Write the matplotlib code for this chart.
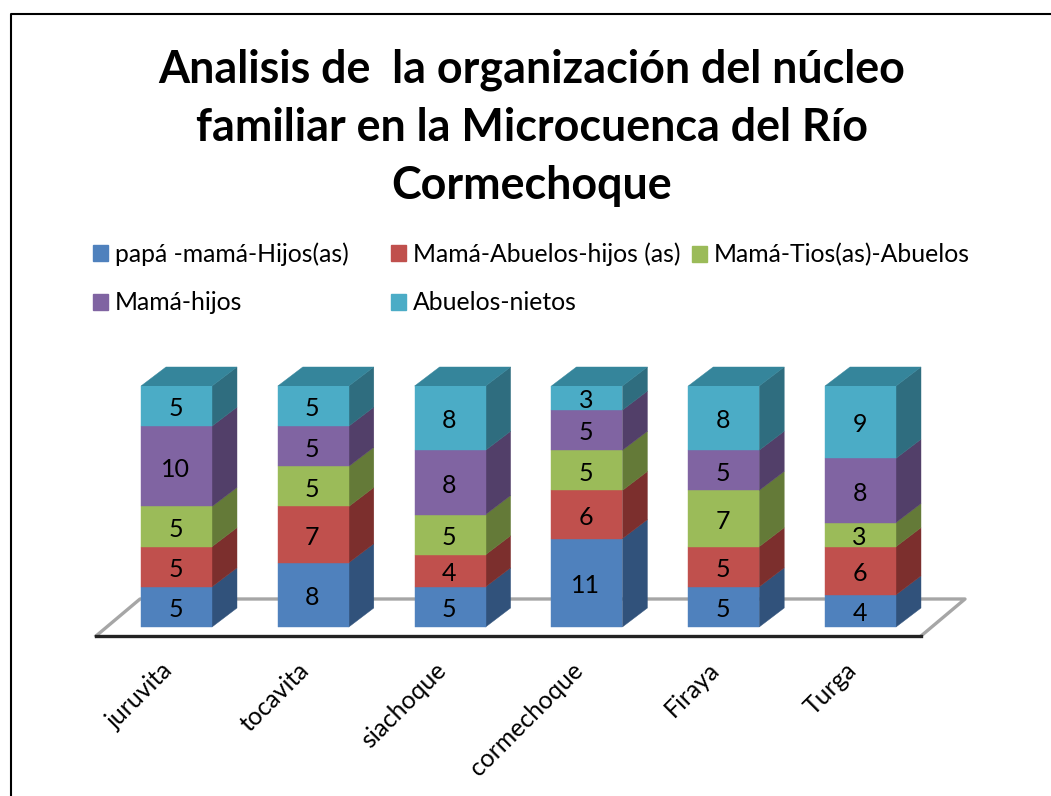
import matplotlib
matplotlib.use('Agg')
import matplotlib.pyplot as plt
from matplotlib.lines import Line2D
from matplotlib.patches import Polygon, Patch
from matplotlib.transforms import ScaledTranslation

plt.rcParams['font.family'] = ['Lato', 'DejaVu Sans']

places = ['juruvita', 'tocavita', 'siachoque', 'cormechoque', 'Firaya', 'Turga']
names = ['papá -mamá-Hijos(as)', 'Mamá-Abuelos-hijos (as)', 'Mamá-Tios(as)-Abuelos', 'Mamá-hijos', 'Abuelos-nietos']
papa_mama = [5, 8, 5, 11, 5, 4]
mama_abuelos = [5, 7, 4, 6, 5, 6]
mama_tios = [5, 5, 5, 5, 7, 3]
mama_hijos = [10, 5, 8, 5, 5, 8]
abuelos_nietos = [5, 5, 8, 3, 8, 9]
series = [papa_mama, mama_abuelos, mama_tios, mama_hijos, abuelos_nietos]

front = ['#4F81BD', '#C0504D', '#9BBB59', '#8064A2', '#4BACC6']
side = ['#31527B', '#7C2F2D', '#647A38', '#523F69', '#2F6D7F']
top_color = '#35859B'

W, H = 1051, 796
fig = plt.figure(figsize=(W / 100, H / 100), dpi=100)

# axes box in pixels, floor front edge is the bottom spine
ax = fig.add_axes([96 / W, 1 - 636 / H, (921 - 96) / W, (636 - 386) / H])
per_cat = 136.8
per_val = 8.03
ax.set_xlim((96 - 176.5) / per_cat, (921 - 176.5) / per_cat)
ax.set_ylim(-9 / per_val, 30)

bar_w = 71 / per_cat
dx = 25 / per_cat
dy = 19 / per_val

# floor behind the bars
floor_x = [96, 140, 965, 921]
floor_y = [636, 599, 599, 636]
floor = Line2D([v / W for v in floor_x], [1 - v / H for v in floor_y], transform=fig.transFigure,
               color='#A6A6A6', lw=2.4, zorder=1)
fig.add_artist(floor)

ax.patch.set_alpha(0)
ax.set_zorder(2)

bottom = [0] * len(places)
for i, vals in enumerate(series):
    bars = ax.bar(range(len(places)), vals, bar_w, bottom=bottom, color=front[i],
                  edgecolor=front[i], linewidth=0.3, label=names[i], zorder=3)
    for lab in ax.bar_label(bars, label_type='center', fontsize=18, color='black', zorder=6):
        lab.xyann = (-0.7, -2)
    for j, v in enumerate(vals):
        b = bottom[j]
        xr = j + bar_w / 2
        ax.add_patch(Polygon([(xr, b), (xr + dx, b + dy), (xr + dx, b + v + dy), (xr, b + v)],
                             facecolor=side[i], edgecolor=side[i], lw=0.3, zorder=2, clip_on=False))
    bottom = [b + v for b, v in zip(bottom, vals)]

for j, t in enumerate(bottom):
    xl = j - bar_w / 2
    xr = j + bar_w / 2
    ax.add_patch(Polygon([(xl, t), (xl + dx, t + dy), (xr + dx, t + dy), (xr, t)],
                         facecolor=top_color, edgecolor=top_color, lw=0.3, zorder=2, clip_on=False))

for s in ['top', 'left', 'right']:
    ax.spines[s].set_visible(False)
ax.spines['bottom'].set_color('#222222')
ax.spines['bottom'].set_linewidth(2.4)
ax.set_yticks([])
ax.set_xticks(range(len(places)))
ax.set_xticklabels(places, rotation=45, ha='right', va='top', rotation_mode='anchor', fontsize=17.8)
ax.tick_params(axis='x', length=0, pad=16)
shift = ScaledTranslation(-16 / 100, 0, fig.dpi_scale_trans)
for lab in ax.get_xticklabels():
    lab.set_transform(lab.get_transform() + shift)

fig.text(532 / W, 1 - 127.5 / H,
         'Analisis de  la organización del núcleo\nfamiliar en la Microcuenca del Río\nCormechoque',
         ha='center', va='center', fontsize=32.3, fontweight='bold', linespacing=1.47)

# legend entries sit at uneven column gaps, so one small legend per entry
legend_x = [93, 391, 692, 93, 391]
legend_y = [254, 254, 255, 303, 303]
for k in range(len(names)):
    leg = fig.legend([Patch(color=front[k])], [names[k]], frameon=False, loc='center left',
                     bbox_to_anchor=(legend_x[k] / W, 1 - legend_y[k] / H), fontsize=17.8,
                     handlelength=0.6, handleheight=0.6, handletextpad=0.28,
                     borderpad=0, borderaxespad=0)

# chart border runs off the picture at right and bottom
fig.add_artist(Line2D([11 / W, 11 / W, 1], [0, 1 - 14 / H, 1 - 14 / H], transform=fig.transFigure,
                      color='black', lw=1.5))

fig.savefig('out.png', dpi=100)
